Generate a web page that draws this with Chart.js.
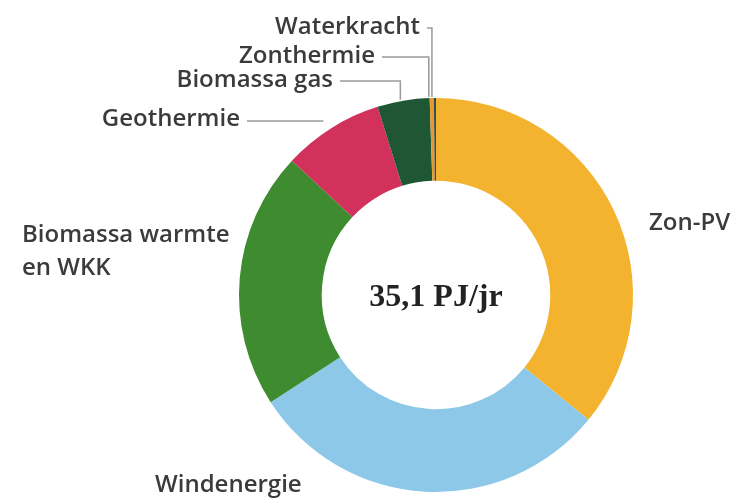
<!DOCTYPE html>
<html>
<head>
<meta charset="utf-8">
<script src="https://cdn.jsdelivr.net/npm/chart.js@4.4.1/dist/chart.umd.min.js"></script>
<style>
    html, body { margin: 0; padding: 0; background: #fff; }
    #wrap { width: 742px; height: 503px; }
</style>
</head>
<body>
<div id="wrap"><canvas id="energyChart" width="742" height="503"></canvas></div>
<script>
// Data (PJ per jaar)
const labels = ['Zon-PV', 'Windenergie', 'Biomassa warmte en WKK', 'Geothermie', 'Biomassa gas', 'Zonthermie', 'Waterkracht'];
const values = [12.6, 10.5, 7.4, 2.9, 1.5, 0.12, 0.06];
const colors = ['#F3B32F', '#8EC8E9', '#3F8B30', '#D1315B', '#1F5735', '#E49A2C', '#34495A'];
const totalLabel = '35,1 PJ/jr';

const labelFont = '600 24px "Open Sans", sans-serif';
const labelColor = '#3b3b3b';
const lineColor = '#9a9a9a';

// Label placement: text anchor + how the leader line runs to the ring
// idx = slice index, lines = text lines, x/y = text anchor, align, leader type
const labelSpots = [
    { idx: 0, lines: ['Zon-PV'], x: 649, y: 223, align: 'left' },
    { idx: 1, lines: ['Windenergie'], x: 155, y: 485, align: 'left' },
    { idx: 2, lines: ['Biomassa warmte', 'en WKK'], x: 22, y: 235, align: 'left' },
    { idx: 3, lines: ['Geothermie'], x: 240, y: 119, align: 'right', leader: 'flat' },
    { idx: 4, lines: ['Biomassa gas'], x: 333, y: 80, align: 'right', leader: 'elbow' },
    { idx: 5, lines: ['Zonthermie'], x: 375, y: 56, align: 'right', leader: 'elbow' },
    { idx: 6, lines: ['Waterkracht'], x: 420, y: 27, align: 'right', leader: 'elbow' }
];

const labelPlugin = {
    id: 'ringLabels',
    afterDraw(chart) {
        const ctx = chart.ctx;
        const arcs = chart.getDatasetMeta(0).data;
        const cx = arcs[0].x, cy = arcs[0].y;
        const outerR = arcs[0].outerRadius;

        ctx.save();
        // center total
        ctx.font = 'bold 32px "Liberation Serif", serif';
        ctx.fillStyle = '#222';
        ctx.textAlign = 'center';
        ctx.textBaseline = 'middle';
        ctx.fillText(totalLabel, cx, cy + 3);

        ctx.font = labelFont;
        ctx.fillStyle = labelColor;
        ctx.textBaseline = 'middle';
        ctx.strokeStyle = lineColor;
        ctx.lineWidth = 1.5;

        labelSpots.forEach(s => {
            ctx.textAlign = s.align;
            s.lines.forEach((t, i) => ctx.fillText(t, s.x, s.y + i * 33));
            if (!s.leader) return;
            const arc = arcs[s.idx];
            const mid = (arc.startAngle + arc.endAngle) / 2;
            const textW = ctx.measureText(s.lines[0]).width;
            const startX = s.align === 'right' ? s.x + 7 : s.x + textW + 7;
            ctx.beginPath();
            if (s.leader === 'elbow') {
                const ax = cx + Math.cos(mid) * outerR;
                const ringY = cy - Math.sqrt(Math.max(outerR * outerR - (ax - cx) * (ax - cx), 0));
                ctx.moveTo(startX, s.y + 1);
                ctx.lineTo(ax - 3, s.y + 1);
                ctx.lineTo(ax - 3, ringY - 1);
            } else {
                const dy = cy - s.y;
                const ringX = cx - Math.sqrt(Math.max(outerR * outerR - dy * dy, 0));
                ctx.moveTo(startX, s.y + 2);
                ctx.lineTo(ringX - 24, s.y + 2);
            }
            ctx.stroke();
        });
        ctx.restore();
    }
};

new Chart(document.getElementById('energyChart'), {
    type: 'doughnut',
    data: {
        labels: labels,
        datasets: [{
            data: values,
            backgroundColor: colors,
            borderWidth: 0
        }]
    },
    options: {
        responsive: false,
        animation: false,
        cutout: '58%',
        layout: { padding: { left: 239, right: 109, top: 98, bottom: 11 } },
        plugins: {
            legend: { display: false },
            tooltip: { enabled: false }
        }
    },
    plugins: [labelPlugin]
});
</script>
</body>
</html>
